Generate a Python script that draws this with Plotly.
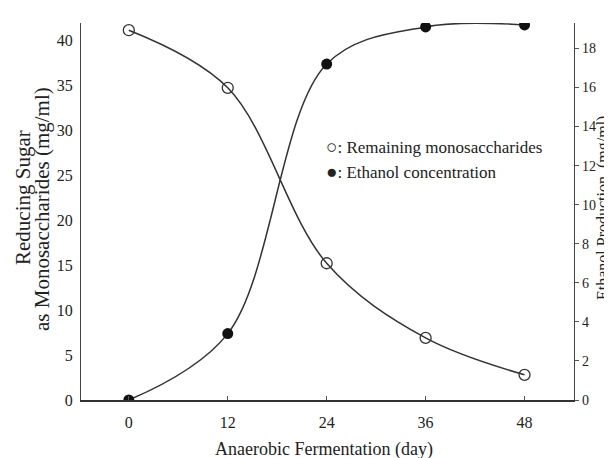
import plotly.graph_objects as go

days = [0, 12, 24, 36, 48]
monosaccharides = [41.1, 34.7, 15.2, 6.9, 2.8]
ethanol = [0.0, 3.4, 17.2, 19.1, 19.2]
x_ticks = [0, 12, 24, 36, 48]
left_ticks = [0, 5, 10, 15, 20, 25, 30, 35, 40]
right_ticks = [0, 2, 4, 6, 8, 10, 12, 14, 16, 18]

FONT = "Liberation Serif, Times New Roman, serif"

fig = go.Figure()
fig.add_trace(go.Scatter(
    x=days, y=monosaccharides, mode="lines+markers",
    line=dict(color="#333333", width=1.5, shape="spline", smoothing=1.0),
    marker=dict(symbol="circle-open", size=11, color="#333333", line=dict(width=1.3)),
    yaxis="y", showlegend=False))
fig.add_trace(go.Scatter(
    x=days, y=ethanol, mode="lines+markers",
    line=dict(color="#333333", width=1.5, shape="spline", smoothing=1.0),
    marker=dict(symbol="circle", size=11, color="#111111"),
    yaxis="y2", showlegend=False))

fig.update_layout(
    width=612, height=458,
    margin=dict(l=73, r=46, t=15, b=66),
    paper_bgcolor="white", plot_bgcolor="white",
    font=dict(family=FONT, color="#222222"),
    xaxis=dict(range=[-5.8, 54.0], tickvals=x_ticks, showgrid=False, zeroline=False,
               showline=True, linecolor="#333333", linewidth=1.5,
               ticks="inside", ticklen=4, tickcolor="#555555", ticklabelstandoff=7,
               tickfont=dict(size=16, family=FONT)),
    yaxis=dict(range=[0, 41.9], tickvals=left_ticks, showgrid=False, zeroline=False,
               showline=True, linecolor="#444444", linewidth=1.2, ticklabelstandoff=4,
               ticks="", tickfont=dict(size=16, family=FONT)),
    yaxis2=dict(range=[0, 19.3], tickvals=right_ticks, overlaying="y", side="right",
                showgrid=False, zeroline=False, showline=True, linecolor="#444444",
                linewidth=1.2, ticks="outside", ticklen=4, tickcolor="#555555",
                ticklabelstandoff=0, tickfont=dict(size=14, family=FONT)),
)

PLOT_W = 612 - 73 - 46

def px_x(p):
    return (p - 73) / float(PLOT_W)

def px_y(p):
    return (392 - p) / 377.0

ann = [
    dict(text="Anaerobic Fermentation (day)", x=px_x(316), y=px_y(441), xref="paper", yref="paper",
         xanchor="center", yanchor="middle", showarrow=False, font=dict(size=18, family=FONT)),
    dict(text="Reducing Sugar", x=px_x(15), y=px_y(190), xref="paper",
         yref="paper", xanchor="center", yanchor="middle", textangle=-90, showarrow=False,
         font=dict(size=21, family=FONT)),
    dict(text="as Monosaccharides (mg/ml)", x=px_x(34), y=px_y(201), xref="paper",
         yref="paper", xanchor="center", yanchor="middle", textangle=-90, showarrow=False,
         font=dict(size=21, family=FONT)),
    dict(text="Ethanol Production  (mg/ml)", x=px_x(595), y=px_y(200), xref="paper",
         yref="paper", xanchor="center", yanchor="middle", textangle=-90, showarrow=False,
         font=dict(size=16, family=FONT)),
    dict(text="<span style='font-size:19px'>○</span>: Remaining monosaccharides", x=px_x(316),
         y=px_y(138), xref="paper", yref="paper", xanchor="left", yanchor="middle",
         showarrow=False, font=dict(size=17, family=FONT)),
    dict(text="<span style='font-size:19px'>●</span>: Ethanol concentration", x=px_x(316),
         y=px_y(163), xref="paper", yref="paper", xanchor="left", yanchor="middle",
         showarrow=False, font=dict(size=17, family=FONT)),
]
fig.update_layout(annotations=ann)

fig.write_html("out.html")
